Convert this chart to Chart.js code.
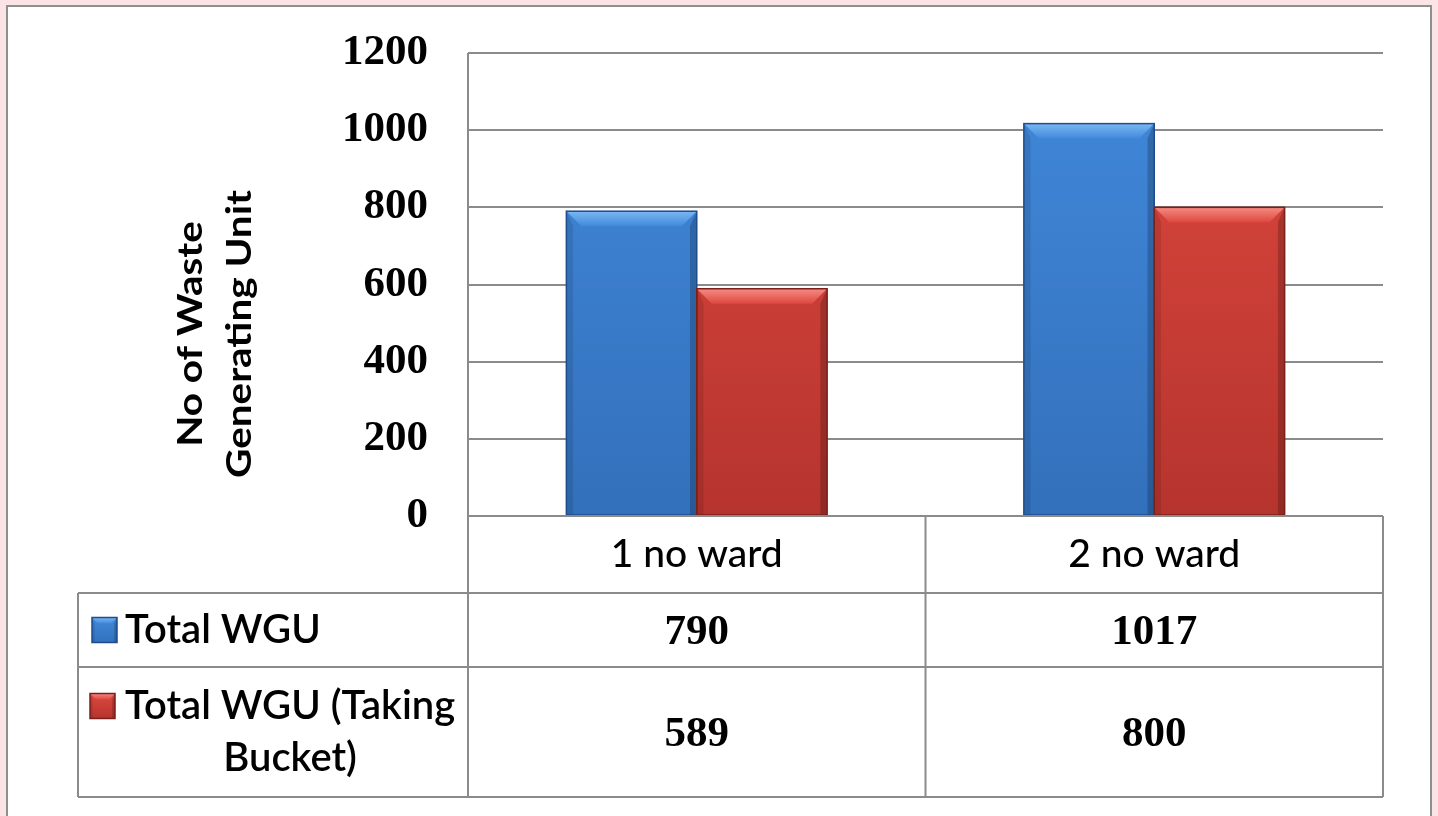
<!DOCTYPE html>
<html>
<head>
<meta charset="utf-8">
<script src="https://cdn.jsdelivr.net/npm/chart.js@4"></script>
<style>
  html, body { margin: 0; padding: 0; background: #fbe4e5; }
  #wrap { width: 1438px; height: 816px; position: relative; }
</style>
</head>
<body>
<div id="wrap"><canvas id="c" width="1438" height="816"></canvas></div>
<script>
// ---- data ----
const categories = ['1 no ward', '2 no ward'];
const seriesNames = ['Total WGU', 'Total WGU (Taking Bucket)'];
const totalWGU = [790, 1017];
const totalWGUBucket = [589, 800];
const yTicks = [0, 200, 400, 600, 800, 1000, 1200];
const axisTitle = ['No of Waste', 'Generating Unit'];

// ---- styling ----
const palettes = [
  { top: '#4189db', bottom: '#3370bb', edge: '#1d4d8c', bevel: '#7ab8f2' },
  { top: '#dd483f', bottom: '#b6342e', edge: '#7a1f1a', bevel: '#f68b82' }
];
const LINE = '#8b8b8b';
const SANS = 'Lato, "Open Sans", sans-serif';
const SERIF = '"Liberation Serif", serif';

function barFill(ctx, pal) {
  const area = ctx.chart.chartArea;
  if (!area) return pal.top;
  const g = ctx.chart.ctx.createLinearGradient(0, area.top, 0, area.bottom);
  g.addColorStop(0, pal.top);
  g.addColorStop(1, pal.bottom);
  return g;
}

// bevelled top and shaded sides on each bar, legend keys use the same look
function drawBevel(c, left, top, right, bottom, pal, b) {
  const g = c.createLinearGradient(0, top, 0, top + b);
  g.addColorStop(0, pal.bevel);
  g.addColorStop(1, pal.top);
  c.fillStyle = g;
  c.beginPath();
  c.moveTo(left, top); c.lineTo(right, top);
  c.lineTo(right - b, top + b); c.lineTo(left + b, top + b);
  c.closePath(); c.fill();
  const s = Math.max(2, b * 0.45);
  c.fillStyle = 'rgba(0,0,0,0.10)';
  c.beginPath();
  c.moveTo(left, top); c.lineTo(left + s, top + b); c.lineTo(left + s, bottom); c.lineTo(left, bottom);
  c.closePath(); c.fill();
  c.fillStyle = 'rgba(0,0,0,0.20)';
  c.beginPath();
  c.moveTo(right, top); c.lineTo(right - s, top + b); c.lineTo(right - s, bottom); c.lineTo(right, bottom);
  c.closePath(); c.fill();
  c.strokeStyle = pal.edge;
  c.lineWidth = 1.5;
  c.strokeRect(left, top, right - left, bottom - top);
}

const framePlugin = {
  id: 'frame',
  beforeDraw(chart) {
    const c = chart.ctx;
    c.save();
    c.fillStyle = '#fbe4e5';
    c.fillRect(0, 0, chart.width, chart.height);
    c.fillStyle = '#ffffff';
    c.fillRect(7, 6, 1424, chart.height);
    c.strokeStyle = '#8f8f8f';
    c.lineWidth = 2;
    c.beginPath();
    c.moveTo(7, chart.height); c.lineTo(7, 6); c.lineTo(1431, 6); c.lineTo(1431, chart.height);
    c.stroke();
    c.restore();
  }
};

const bevelPlugin = {
  id: 'bevel',
  afterDatasetsDraw(chart) {
    const c = chart.ctx;
    c.save();
    chart.data.datasets.forEach((ds, i) => {
      const meta = chart.getDatasetMeta(i);
      meta.data.forEach(bar => {
        const p = bar.getProps(['x', 'y', 'width', 'base'], true);
        drawBevel(c, p.x - p.width / 2, p.y, p.x + p.width / 2, p.base, palettes[i], 15);
      });
    });
    c.restore();
  }
};

function wrapText(c, text, maxW) {
  const words = text.split(' ');
  const lines = [];
  let cur = '';
  words.forEach(w => {
    const t = cur ? cur + ' ' + w : w;
    if (c.measureText(t).width > maxW && cur) { lines.push(cur); cur = w; } else cur = t;
  });
  if (cur) lines.push(cur);
  return lines;
}

// data table under the plot plus the rotated axis title
const tablePlugin = {
  id: 'dataTable',
  afterDraw(chart) {
    const c = chart.ctx;
    const area = chart.chartArea;
    const x = chart.scales.x;
    const cx = categories.map((_, i) => x.getPixelForValue(i));
    const mid = (cx[0] + cx[1]) / 2;
    const tableLeft = 78;
    const rows = [area.bottom, 593, 667, 797];
    c.save();
    c.strokeStyle = LINE;
    c.lineWidth = 2;
    c.beginPath();
    c.moveTo(area.left, area.top); c.lineTo(area.left, rows[3]);
    c.moveTo(mid, rows[0]); c.lineTo(mid, rows[3]);
    c.moveTo(area.right, rows[0]); c.lineTo(area.right, rows[3]);
    c.moveTo(tableLeft, rows[1]); c.lineTo(tableLeft, rows[3]);
    for (let r = 1; r < rows.length; r++) { c.moveTo(tableLeft, rows[r]); c.lineTo(area.right, rows[r]); }
    c.moveTo(area.left, rows[0]); c.lineTo(area.right, rows[0]);
    c.stroke();

    c.fillStyle = '#000';
    c.textAlign = 'center';
    c.textBaseline = 'middle';
    c.font = '500 39px ' + SANS;
    categories.forEach((cat, i) => c.fillText(cat, cx[i], (rows[0] + rows[1]) / 2));

    const series = [totalWGU, totalWGUBucket];
    c.font = 'bold 43px ' + SERIF;
    series.forEach((vals, s) => {
      const yc = (rows[s + 1] + rows[s + 2]) / 2 + 3;
      vals.forEach((v, i) => c.fillText(String(v), cx[i], yc));
    });

    // legend keys and series names
    c.font = '600 40px ' + SANS;
    seriesNames.forEach((name, s) => {
      const lines = wrapText(c, name, 345);
      const top = rows[s + 1], bottom = rows[s + 2];
      const lh = 52;
      const textX = 125;
      const blockW = Math.max(...lines.map(l => c.measureText(l).width));
      const y0 = (top + bottom) / 2 - (lines.length - 1) * lh / 2;
      c.textAlign = 'center';
      c.fillStyle = '#000';
      lines.forEach((l, k) => c.fillText(l, lines.length > 1 ? textX + blockW / 2 : textX + c.measureText(l).width / 2, y0 + k * lh));
      const pal = palettes[s];
      const sq = 25, sx = 92 - s * 2, sy = y0 - sq / 2;
      const g = c.createLinearGradient(0, sy, 0, sy + sq);
      g.addColorStop(0, pal.top); g.addColorStop(1, pal.bottom);
      c.fillStyle = g;
      c.fillRect(sx, sy, sq, sq);
      drawBevel(c, sx, sy, sx + sq, sy + sq, pal, 6);
    });

    // axis title, two rotated lines stretched along their length
    c.font = 'bold 35px ' + SANS;
    c.fillStyle = '#000';
    c.textAlign = 'center';
    c.textBaseline = 'alphabetic';
    const stretch = 288 / c.measureText(axisTitle[1]).width;
    c.translate(0, 334);
    c.rotate(-Math.PI / 2);
    c.scale(stretch, 1);
    c.fillText(axisTitle[0], 0, 202);
    c.fillText(axisTitle[1], 0, 251);
    c.restore();
  }
};

new Chart(document.getElementById('c'), {
  type: 'bar',
  data: {
    labels: categories,
    datasets: [
      { label: seriesNames[0], data: totalWGU, backgroundColor: ctx => barFill(ctx, palettes[0]) },
      { label: seriesNames[1], data: totalWGUBucket, backgroundColor: ctx => barFill(ctx, palettes[1]) }
    ]
  },
  options: {
    responsive: false,
    animation: false,
    events: [],
    layout: { padding: { top: 53, right: 55, bottom: 300, left: 0 } },
    datasets: { bar: { categoryPercentage: 0.57, barPercentage: 1.0, borderWidth: 0 } },
    plugins: { legend: { display: false }, tooltip: { enabled: false }, title: { display: false } },
    scales: {
      x: { display: false },
      y: {
        min: 0, max: 1200,
        afterFit(scale) { scale.width = 468; scale.paddingTop = 0; scale.paddingBottom = 0; },
        afterBuildTicks(scale) { scale.ticks = yTicks.map(v => ({ value: v })); },
        border: { display: false },
        grid: { color: LINE, lineWidth: 2, drawTicks: false },
        ticks: {
          padding: 40, color: '#000',
          font: { family: SERIF, size: 43, weight: 'bold' },
          callback: v => String(v)
        }
      }
    }
  },
  plugins: [framePlugin, bevelPlugin, tablePlugin]
});
</script>
</body>
</html>
